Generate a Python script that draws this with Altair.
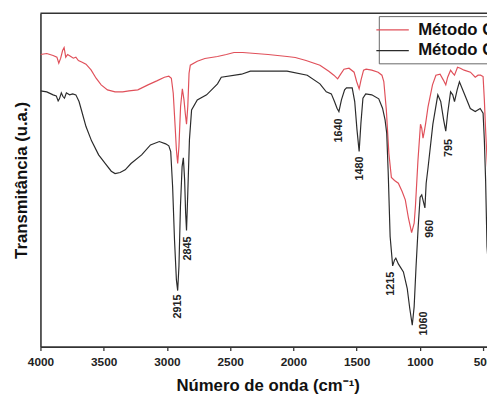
import altair as alt
import pandas as pd
import numpy as np

# ---- data (transmittance in arbitrary units) ----
wn_g = [4000, 3950, 3900, 3870, 3855, 3840, 3825, 3813, 3800, 3785, 3760, 3740, 3720, 3700,
        3670, 3640, 3600, 3560, 3520, 3470, 3410, 3350, 3300, 3230, 3150, 3080, 3020, 2985,
        2965, 2950, 2935, 2925, 2915, 2905, 2892, 2878, 2865, 2855, 2845, 2835, 2825, 2815,
        2760, 2700, 2600, 2530, 2470, 2400, 2300, 2200, 2050, 1985, 1900, 1790, 1720, 1680,
        1650, 1630, 1600, 1560, 1520, 1500, 1480, 1465, 1445, 1425, 1380, 1330, 1300, 1285,
        1265, 1245, 1225, 1200, 1170, 1140, 1115, 1090, 1065, 1045, 1035, 1015, 995, 985,
        975, 965, 955, 935, 900, 873, 840, 815, 795, 780, 757, 740, 726, 702, 680, 650, 600,
        562, 540, 520, 500, 490, 480, 469, 450, 430]
t_g = [87.6, 87.9, 87.3, 86.8, 85.0, 86.5, 88.8, 89.7, 86.8, 87.6, 87.0, 86.5, 86.8, 85.8,
       85.3, 84.7, 83.0, 80.5, 78.5, 77.0, 76.4, 76.4, 76.7, 77.0, 78.5, 79.7, 80.8, 81.1,
       80.5, 76.0, 66.0, 59.0, 54.9, 60.0, 72.0, 77.3, 74.0, 70.0, 66.7, 72.0, 82.0, 84.4,
       85.6, 86.4, 87.0, 87.6, 88.2, 88.2, 87.9, 87.6, 87.0, 86.7, 85.8, 84.4, 82.6, 81.4,
       80.3, 81.5, 83.2, 83.5, 82.3, 79.5, 77.3, 80.0, 82.9, 83.2, 82.9, 82.3, 81.4, 79.5,
       71.0, 58.0, 50.7, 49.8, 49.0, 46.5, 44.0, 38.5, 34.2, 37.0, 42.0, 55.8, 66.7, 65.5,
       62.5, 64.5, 66.7, 72.0, 78.5, 81.4, 81.7, 80.0, 78.5, 80.8, 82.9, 82.0, 81.4, 83.8,
       83.5, 82.9, 82.3, 80.8, 81.4, 81.4, 81.0, 74.0, 65.0, 56.6, 45.0, 40.0]

wn_c = [4000, 3950, 3900, 3875, 3860, 3850, 3835, 3822, 3810, 3795, 3770, 3745, 3720, 3695,
        3673, 3640, 3596, 3540, 3487, 3440, 3410, 3370, 3330, 3284, 3200, 3130, 3060, 3010,
        2985, 2970, 2955, 2940, 2925, 2915, 2905, 2893, 2880, 2870, 2860, 2852, 2845, 2835,
        2822, 2805, 2760, 2686, 2600, 2570, 2410, 2340, 2200, 2050, 1890, 1790, 1740, 1700,
        1675, 1655, 1640, 1620, 1595, 1580, 1535, 1515, 1497, 1480, 1466, 1450, 1428, 1380,
        1325, 1295, 1275, 1262, 1250, 1235, 1215, 1200, 1190, 1170, 1130, 1100, 1080, 1060,
        1045, 1030, 1013, 998, 985, 960, 950, 935, 897, 858, 835, 812, 795, 780, 757, 740,
        726, 705, 687, 650, 601, 562, 523, 500, 490, 480, 469, 450, 430]
t_c = [76.7, 76.4, 75.5, 75.2, 73.7, 74.3, 76.1, 75.0, 74.5, 76.1, 75.5, 75.8, 75.5, 73.5,
       70.5, 66.0, 61.7, 57.5, 54.9, 52.6, 51.9, 52.2, 53.0, 54.9, 57.5, 60.5, 61.5, 60.8,
       60.2, 58.5, 48.0, 32.0, 20.0, 16.8, 24.0, 42.0, 54.0, 56.6, 50.0, 40.0, 34.8, 46.0,
       62.0, 71.0, 74.0, 75.5, 78.8, 80.8, 81.7, 82.6, 82.6, 82.6, 81.4, 78.8, 76.4, 75.8,
       73.5, 71.5, 70.5, 74.0, 77.0, 77.6, 77.6, 73.5, 65.0, 58.5, 67.0, 74.5, 75.8, 75.5,
       74.3, 71.5, 68.0, 64.0, 52.0, 33.0, 24.2, 26.0, 26.5, 24.8, 22.4, 17.5, 11.5, 6.4,
       12.0, 24.0, 36.0, 44.8, 45.5, 41.6, 49.0, 53.7, 66.7, 75.5, 73.5, 68.0, 64.6, 70.0,
       76.4, 75.5, 73.5, 77.0, 79.4, 76.0, 71.4, 70.5, 71.4, 70.0, 62.0, 50.0, 30.0, 20.0, 16.0]

series_names = ["Método G", "Método C"]
peak_labels = ["2915", "2845", "1640", "1480", "1215", "1060", "960", "795"]
peak_wn = [2915, 2845, 1640, 1480, 1215, 1060, 960, 795]

# ---- styling ----
RED = "#e0505a"
BLACK = "#2b2b2b"
FONT = "Liberation Sans"
W, H = 454, 339
# label offsets in px: (gap below the curve, shift right)
label_offsets = {"2915": (4, 0), "2845": (6, 2), "1640": (7, 0), "1480": (5, 1),
                 "1215": (6, -2), "1060": (-14, 12), "960": (12, 5), "795": (8, 3)}

df = pd.concat([
    pd.DataFrame({"wn": wn_g, "t": t_g, "serie": series_names[0]}),
    pd.DataFrame({"wn": wn_c, "t": t_c, "serie": series_names[1]}),
])

xscale = alt.Scale(domain=[469, 4000], reverse=True, nice=False, zero=False)
yscale = alt.Scale(domain=[0, 100], nice=False, zero=False)

xaxis = alt.Axis(
    values=list(range(4000, 499, -250)), format="d",
    labelExpr="datum.value % 500 == 0 ? datum.label : ''",
    tickSize=4, tickColor="#333", tickWidth=1.3,
    domainColor="#333", domainWidth=1.6,
    labelFont=FONT, labelFontSize=12, labelFontWeight="bold", labelColor="#222",
    labelPadding=6, labelFlush=False, labelOverlap=False,
    title="Número de onda (cm⁻¹)", titleFont=FONT, titleFontSize=17,
    titleFontWeight="bold", titleColor="#111", titlePadding=11, titleX=231, grid=False,
)
yaxis = alt.Axis(
    labels=False, ticks=False, domainColor="#333", domainWidth=1.6,
    title="Transmitância (u.a.)", titleFont=FONT, titleFontSize=17,
    titleFontWeight="bold", titleColor="#111", titlePadding=10, grid=False,
)

lines = alt.Chart(df).mark_line(strokeWidth=1.2, clip=True).encode(
    x=alt.X("wn:Q", scale=xscale, axis=xaxis),
    y=alt.Y("t:Q", scale=yscale, axis=yaxis),
    color=alt.Color(
        "serie:N",
        scale=alt.Scale(domain=series_names, range=[RED, BLACK]),
        legend=alt.Legend(
            title=None, orient="none", legendX=344, legendY=3,
            symbolType="M-2,0H2", symbolSize=272, symbolStrokeWidth=1.3,
            symbolFillColor="transparent",
            labelFont=FONT, labelFontSize=17, labelFontWeight="bold", labelColor="#111",
            labelOffset=17, labelLimit=400, rowPadding=4, padding=5,
            strokeColor="#666", fillColor="white",
        ),
    ),
)

top_rule = alt.Chart(pd.DataFrame({"a": [0]})).mark_rule(color="#333", strokeWidth=1.6).encode(
    x=alt.value(0), x2=alt.value(W), y=alt.value(0)
)

layers = [lines, top_rule]
for lab, w in zip(peak_labels, peak_wn):
    v = float(np.interp(w, wn_c[::-1], t_c[::-1]))
    gap, shift = label_offsets[lab]
    ldf = pd.DataFrame({"wn": [w], "t": [v], "label": [lab]})
    layers.append(
        alt.Chart(ldf).mark_text(
            angle=270, align="right", baseline="middle", dx=-gap, dy=shift,
            font=FONT, fontSize=11, fontWeight="bold", color="#222",
        ).encode(
            x=alt.X("wn:Q", scale=xscale),
            y=alt.Y("t:Q", scale=yscale),
            text="label:N",
        )
    )

chart = alt.layer(*layers).properties(
    width=W, height=H,
    autosize=alt.AutoSizeParams(type="none"),
    padding={"left": 33, "top": 2, "right": 0, "bottom": 49},
    background="white",
).configure_view(stroke=None)

chart.save("out.html", embed_options={"renderer": "svg", "actions": False})
